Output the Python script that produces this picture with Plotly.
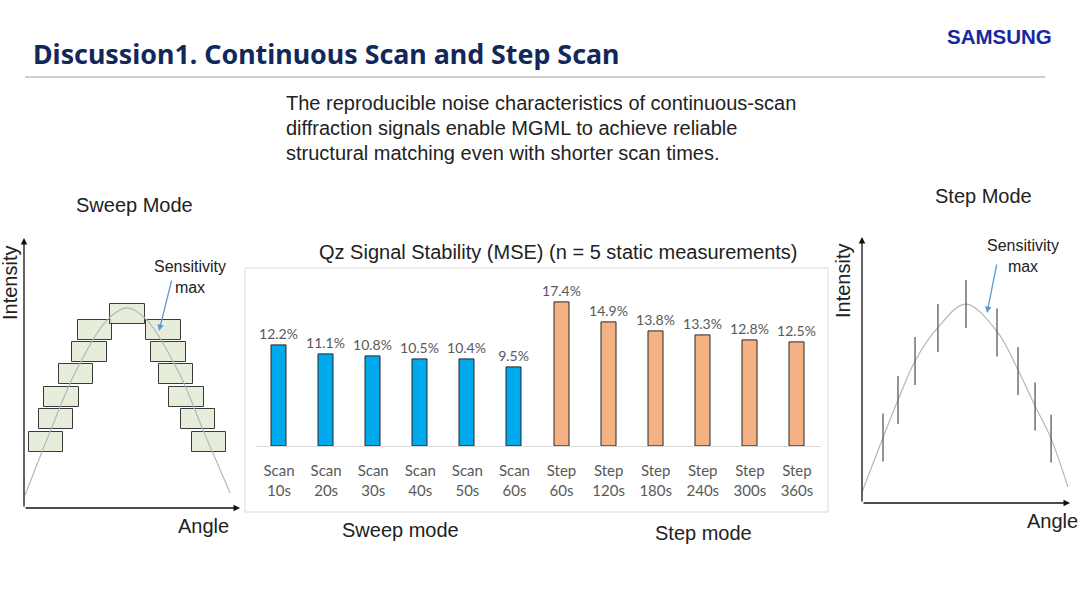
import plotly.graph_objects as go

W, H = 1080, 608

# --- bar chart data ---
modes = ["Scan"] * 6 + ["Step"] * 6
times = ["10s", "20s", "30s", "40s", "50s", "60s",
         "60s", "120s", "180s", "240s", "300s", "360s"]
mse_pct = [12.2, 11.1, 10.8, 10.5, 10.4, 9.5,
           17.4, 14.9, 13.8, 13.3, 12.8, 12.5]

# --- sweep mode sketch (angle 0-10, intensity 0-1) ---
sweep_curve_x = [0.05, 1.20, 2.36, 3.84, 4.77, 5.69, 7.18, 8.33, 9.54]
sweep_curve_y = [0.048, 0.281, 0.50, 0.696, 0.741, 0.696, 0.50, 0.281, 0.056]
sweep_box_x = [1.02, 1.48, 1.74, 2.41, 3.03, 3.29, 4.79,
               6.46, 6.69, 7.04, 7.52, 8.06, 8.56]
sweep_box_lo = [0.207, 0.293, 0.374, 0.459, 0.541, 0.622, 0.682,
                0.622, 0.541, 0.459, 0.374, 0.293, 0.207]

# --- step mode sketch ---
step_curve_x = [0.0, 1.01, 1.73, 2.55, 3.65, 5.0, 6.49, 7.5, 8.32, 9.09, 9.9]
step_curve_y = [0.041, 0.246, 0.387, 0.534, 0.66, 0.748, 0.645, 0.50, 0.365, 0.242, 0.06]
step_pt_x = [1.01, 1.73, 2.55, 3.65, 5.0, 6.49, 7.5, 8.32, 9.09]
step_pt_y = [0.246, 0.387, 0.534, 0.658, 0.748, 0.641, 0.496, 0.363, 0.242]


def px(x):
    return x / W


def py(y):
    return 1 - y / H


cats = [f"{m} {t}" for m, t in zip(modes, times)]
ticks = [f"{m}<br>{t}" for m, t in zip(modes, times)]
colors = ["#00A9EC" if m == "Scan" else "#F4B183" for m in modes]
NARROW = "Lato, sans-serif"

fig = go.Figure()

fig.add_trace(go.Bar(
    x=cats, y=mse_pct, marker=dict(color=colors, line=dict(color="#262626", width=1)),
    width=0.32, texttemplate="%{y:.1f}%", textposition="outside", constraintext="none",
    textfont=dict(family=NARROW, size=14, color="#595959"), cliponaxis=False,
    xaxis="x", yaxis="y", showlegend=False,
))

# sweep mode boxes and curve
fig.add_trace(go.Scatter(
    x=sweep_curve_x, y=sweep_curve_y, mode="lines", line=dict(color="#b5b5b5", width=1.2, shape="spline"),
    xaxis="x2", yaxis="y2", showlegend=False,
))
fig.add_trace(go.Bar(
    x=sweep_box_x, y=[0.074] * len(sweep_box_x), base=sweep_box_lo, width=1.6,
    marker=dict(color="rgba(226,235,213,0.85)", line=dict(color="#3a3a3a", width=1)),
    xaxis="x2", yaxis="y2", showlegend=False,
))

# step mode curve and point spreads
fig.add_trace(go.Scatter(
    x=step_curve_x, y=step_curve_y, mode="lines", line=dict(color="#b5b5b5", width=1.2, shape="spline"),
    xaxis="x3", yaxis="y3", showlegend=False,
))
fig.add_trace(go.Scatter(
    x=step_pt_x, y=step_pt_y, mode="markers", marker=dict(size=1, color="rgba(0,0,0,0)"),
    error_y=dict(type="constant", value=0.09, width=0, color="#595959", thickness=1.3),
    xaxis="x3", yaxis="y3", showlegend=False,
))

hidden = dict(showgrid=False, zeroline=False, showticklabels=False, ticks="")

fig.update_layout(
    width=W, height=H,
    margin=dict(l=0, r=0, t=0, b=0),
    paper_bgcolor="white", plot_bgcolor="rgba(0,0,0,0)",
    font=dict(family="Liberation Sans, Arial", color="#222222"),
    bargap=0,
    xaxis=dict(domain=[px(255.5), px(820.5)], range=[-0.5, 11.5], tickvals=cats, ticktext=ticks,
               showline=True, linecolor="#d9d9d9", linewidth=1, showgrid=False,
               tickfont=dict(family=NARROW, size=15, color="#595959"), ticks="", ticklabelstandoff=11),
    yaxis=dict(domain=[py(446), py(280.4)], range=[0, 20], visible=False),
    xaxis2=dict(domain=[px(24), px(240)], range=[0, 10], anchor="y2", **hidden),
    yaxis2=dict(domain=[py(508), py(238)], range=[0, 1], anchor="x2", **hidden),
    xaxis3=dict(domain=[px(862), px(1070)], range=[0, 10], anchor="y3", **hidden),
    yaxis3=dict(domain=[py(503), py(237)], range=[0, 1], anchor="x3", **hidden),
)

# chart frame and header rule
fig.add_shape(type="rect", xref="paper", yref="paper", x0=px(245), x1=px(828), y0=py(512), y1=py(268),
              line=dict(color="#d9d9d9", width=1))
fig.add_shape(type="line", xref="paper", yref="paper", x0=px(25), x1=px(1045), y0=py(77), y1=py(77),
              line=dict(color="#c0c0c0", width=1.5))


def text(x, y, s, size=20, color="#222222", anchor="center", family=None, **kw):
    f = dict(size=size, color=color)
    if family:
        f["family"] = family
    fig.add_annotation(x=px(x), y=py(y), xref="paper", yref="paper", text=s, showarrow=False,
                       xanchor=anchor, yanchor="middle", font=f, **kw)


text(31, 53, "<b>Discussion1. Continuous Scan and Step Scan</b>", size=26.8, color="#13285a", anchor="left",
     family="Noto Sans")
text(999, 37, "<b>SAMSUNG</b>", size=20.5, color="#1428A0", family="Liberation Sans")
text(284, 103, "The reproducible noise characteristics of continuous-scan", anchor="left")
text(284, 128, "diffraction signals enable MGML to achieve reliable", anchor="left")
text(284, 153, "structural matching even with shorter scan times.", anchor="left")
text(558, 252, "Qz Signal Stability (MSE) (n = 5 static measurements)")
text(400, 530, "Sweep mode")
text(703, 533, "Step mode")

# sketch labels
text(134, 205, "Sweep Mode")
text(983, 196, "Step Mode")
text(10, 283, "Intensity", textangle=-90)
text(843, 281, "Intensity", textangle=-90)
text(203, 526, "Angle")
text(1052, 521, "Angle")
text(190, 277, "Sensitivity<br>max", size=16)
text(1023, 256, "Sensitivity<br>max", size=16)

# sketch axes
for xa, ya in (("x2", "y2"), ("x3", "y3")):
    fig.add_annotation(x=0, y=1, ax=0, ay=0, xref=xa, yref=ya, axref=xa, ayref=ya, text="",
                       showarrow=True, arrowhead=2, arrowsize=1, arrowwidth=1.3, arrowcolor="#111111")
    fig.add_annotation(x=10, y=0, ax=0, ay=0, xref=xa, yref=ya, axref=xa, ayref=ya, text="",
                       showarrow=True, arrowhead=2, arrowsize=1, arrowwidth=1.3, arrowcolor="#111111")

# sensitivity arrows
fig.add_annotation(x=px(159), y=py(331), xref="paper", yref="paper", ax=13, ay=-52, text="",
                   showarrow=True, arrowhead=2, arrowsize=1, arrowwidth=1.3, arrowcolor="#5b9bd5")
fig.add_annotation(x=px(987), y=py(313), xref="paper", yref="paper", ax=10, ay=-50, text="",
                   showarrow=True, arrowhead=2, arrowsize=1, arrowwidth=1.3, arrowcolor="#5b9bd5")

fig.write_html("out.html", config={"displayModeBar": False},
               post_script="document.body.style.margin='0';")
